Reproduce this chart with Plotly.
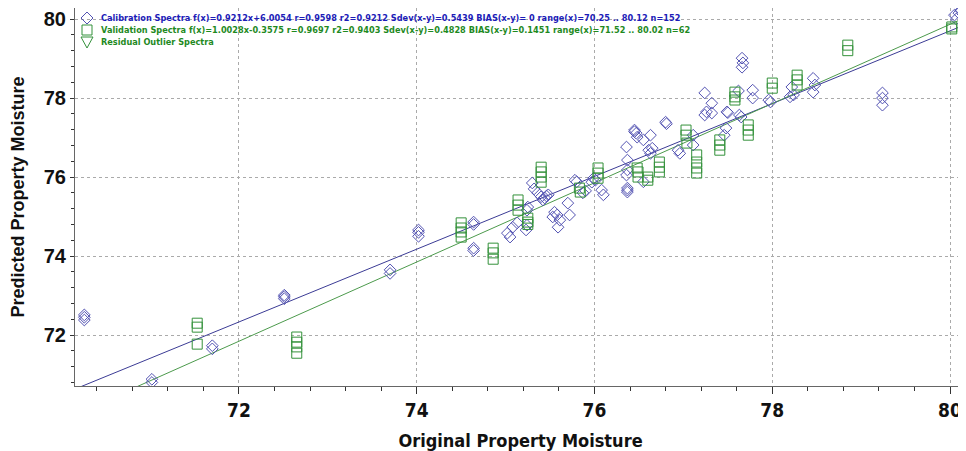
import plotly.graph_objects as go

# ---------------- data ----------------
cal_x = [70.26, 70.26, 70.26, 71.02, 71.02, 71.70, 71.70, 72.51, 72.51, 72.51,
         73.70, 73.70, 74.02, 74.02, 74.02, 74.64, 74.64, 74.64, 74.64, 75.02,
         75.05, 75.08, 75.13, 75.23, 75.24, 75.30, 75.32, 75.36, 75.24, 75.25,
         75.40, 75.44, 75.42, 75.48, 75.46, 75.55, 75.58, 75.53, 75.61, 75.59,
         75.70, 75.72, 75.78, 75.80, 75.87, 75.90, 75.99, 76.01, 75.97, 76.08,
         76.10, 76.36, 76.37, 76.37, 76.36, 76.37, 76.37, 76.37, 76.45, 76.47,
         76.48, 76.45, 76.55, 76.63, 76.61, 76.63, 76.65, 76.80, 76.81, 76.94,
         76.96, 77.11, 77.11, 77.66, 77.67, 77.66, 77.24, 77.32, 77.26, 77.24,
         77.32, 77.49, 77.50, 77.48, 77.46, 77.63, 77.65, 77.78, 77.78, 77.96,
         77.98, 78.22, 78.24, 78.20, 78.46, 78.48, 78.46, 79.24, 79.24, 79.24,
         80.05, 80.07, 80.12, 80.10, 76.55, 77.62]
cal_y = [72.51, 72.38, 72.45, 70.88, 70.80, 71.73, 71.65, 73.01, 72.92, 72.97,
         73.65, 73.56, 74.66, 74.50, 74.60, 74.86, 74.80, 74.20, 74.14, 74.58,
         74.48, 74.73, 74.84, 74.66, 74.78, 75.85, 75.70, 75.60, 75.16, 75.24,
         75.50, 75.47, 75.42, 75.55, 75.52, 75.11, 75.04, 74.99, 74.91, 74.73,
         75.34, 75.04, 75.92, 75.88, 75.60, 75.65, 75.97, 75.92, 75.87, 75.67,
         75.55, 76.76, 76.43, 76.18, 76.05, 75.72, 75.62, 75.67, 77.19, 77.11,
         77.01, 77.15, 76.94, 77.06, 76.68, 76.60, 76.73, 77.39, 77.35, 76.68,
         76.60, 77.06, 76.81, 79.01, 78.89, 78.78, 78.13, 77.87, 77.65, 77.57,
         77.62, 77.65, 77.63, 77.24, 77.06, 77.57, 77.52, 78.20, 78.00, 77.95,
         77.90, 78.28, 78.08, 78.03, 78.50, 78.33, 78.15, 78.13, 78.00, 77.82,
         80.10, 80.00, 80.22, 80.15, 75.88, 78.18]

val_x = [71.53, 71.53, 71.53, 72.65, 72.65, 72.65, 72.65, 74.50, 74.50, 74.50,
         74.50, 74.86, 74.86, 74.86, 75.14, 75.14, 75.14, 75.25, 75.25, 75.25,
         75.40, 75.40, 75.40, 75.40, 75.83, 75.84, 76.04, 76.04, 76.04, 76.48,
         76.49, 76.49, 76.60, 76.60, 76.73, 76.73, 76.73, 77.03, 77.03, 77.04,
         77.15, 77.15, 77.15, 77.15, 77.41, 77.41, 77.41, 77.58, 77.58, 77.58,
         77.73, 77.73, 77.73, 78.00, 78.00, 78.28, 78.28, 78.28, 78.85, 78.85,
         80.02, 80.02]
val_y = [72.30, 72.20, 71.77, 71.95, 71.82, 71.70, 71.54, 74.84, 74.71, 74.61,
         74.48, 74.20, 74.08, 73.92, 75.42, 75.29, 75.16, 74.96, 74.86, 74.80,
         76.25, 76.13, 76.00, 75.87, 75.72, 75.62, 76.23, 76.10, 75.97, 76.23,
         76.13, 76.00, 76.00, 75.92, 76.38, 76.25, 76.13, 77.19, 77.06, 76.86,
         76.56, 76.38, 76.23, 76.10, 76.94, 76.81, 76.68, 78.15, 78.03, 77.95,
         77.32, 77.19, 77.06, 78.38, 78.25, 78.58, 78.46, 78.33, 79.34, 79.20,
         79.75, 79.80]

outlier_x = []
outlier_y = []

cal_slope, cal_intercept = 0.9212, 6.0054
val_slope, val_intercept = 1.0028, -0.3575

x_range = [70.155, 80.18]
y_range = [70.71, 80.28]

cal_label = ("Calibration Spectra f(x)=0.9212x+6.0054 r=0.9598 r2=0.9212 "
             "Sdev(x-y)=0.5439 BIAS(x-y)= 0 range(x)=70.25 .. 80.12 n=152")
val_label = ("Validation Spectra f(x)=1.0028x-0.3575 r=0.9697 r2=0.9403 "
             "Sdev(x-y)=0.4828 BIAS(x-y)=0.1451 range(x)=71.52 .. 80.02 n=62")
out_label = "Residual Outlier Spectra"

# ---------------- styles ----------------
CAL_MARK = "#5252b2"
CAL_LINE = "#3b3b95"
CAL_TEXT = "#1c1cb8"
VAL_MARK = "#33913a"
VAL_LINE = "#4c9a4c"
VAL_TEXT = "#1f8a1f"

# the page adds an 8px body margin: figure is drawn slightly smaller
W, H = 958, 443
L, T, PW, PH = 67, 0, 891, 378

fig = go.Figure()

line_x = [x_range[0] - 0.2, x_range[1] + 0.2]
fig.add_trace(go.Scatter(x=line_x, y=[cal_slope * v + cal_intercept for v in line_x],
                         mode="lines", line=dict(color=CAL_LINE, width=1),
                         showlegend=False, hoverinfo="skip"))
fig.add_trace(go.Scatter(x=line_x, y=[val_slope * v + val_intercept for v in line_x],
                         mode="lines", line=dict(color=VAL_LINE, width=1),
                         showlegend=False, hoverinfo="skip"))

fig.add_trace(go.Scatter(x=cal_x, y=cal_y, mode="markers", name="Calibration Spectra",
                         marker=dict(symbol="diamond-open", size=9, color=CAL_MARK,
                                     line=dict(width=1, color=CAL_MARK)),
                         showlegend=False))
fig.add_trace(go.Scatter(x=val_x, y=val_y, mode="markers", name="Validation Spectra",
                         marker=dict(symbol="square-open", size=10, color=VAL_MARK,
                                     line=dict(width=1, color=VAL_MARK)),
                         showlegend=False))
fig.add_trace(go.Scatter(x=outlier_x, y=outlier_y, mode="markers", name=out_label,
                         marker=dict(symbol="triangle-down-open", size=10, color=VAL_MARK),
                         showlegend=False))

def px_x(p):
    return (p - L) / PW
def px_y(p):
    return 1 - (p - T) / PH

# legend key glyph outlines (pixel-sized, anchored at key centre)
key_paths = ["M -6 0 L 0 6 L 6 0 L 0 -6 Z",
             "M -5 -5 L 5 -5 L 5 5 L -5 5 Z",
             "M -6 5 L 6 5 L 0 -6 Z"]
rows = [(cal_label, CAL_MARK, CAL_TEXT, 10),
        (val_label, VAL_MARK, VAL_TEXT, 22),
        (out_label, VAL_MARK, VAL_TEXT, 34)]
for path, (txt, scol, tcol, ypix) in zip(key_paths, rows):
    fig.add_shape(type="path", xref="paper", yref="paper",
                  xsizemode="pixel", ysizemode="pixel",
                  xanchor=px_x(79), yanchor=px_y(ypix), path=path,
                  line=dict(color=scol, width=1), fillcolor="rgba(0,0,0,0)")
    fig.add_annotation(xref="paper", yref="paper", x=px_x(92), y=px_y(ypix),
                       text=f"<b>{txt}</b>", showarrow=False,
                       xanchor="left", yanchor="middle", borderpad=0,
                       font=dict(family="DejaVu Sans, Verdana", size=8.2, color=tcol))

NARROW = "Liberation Sans Narrow, Arial Narrow, DejaVu Sans Condensed, Arial"
fig.update_layout(
    width=W, height=H,
    margin=dict(l=L, r=W - L - PW, t=T, b=H - T - PH, autoexpand=False),
    plot_bgcolor="white", paper_bgcolor="white",
    showlegend=False,
    xaxis=dict(range=x_range, tick0=0, dtick=2, ticks="outside", ticklen=7,
               tickcolor="#333", showline=True, linecolor="#666", linewidth=1,
               mirror=True, showgrid=True, gridcolor="#aaaaaa", griddash="dot",
               gridwidth=1, zeroline=False, automargin=False,
               minor=dict(dtick=0.4, tick0=0, ticks="outside", ticklen=4,
                          tickcolor="#333", showgrid=False),
               tickfont=dict(family=NARROW, size=19, color="#111", weight="bold"),
               title=dict(text="Original Property Moisture", standoff=14,
                          font=dict(family=NARROW, size=18, color="#111", weight="bold"))),
    yaxis=dict(range=y_range, tick0=0, dtick=2, ticks="outside", ticklen=4,
               tickcolor="#333", showline=True, linecolor="#666", linewidth=1,
               mirror=True, showgrid=True, gridcolor="#aaaaaa", griddash="dot",
               gridwidth=1, zeroline=False, automargin=False,
               minor=dict(dtick=0.4, tick0=0, ticks="outside", ticklen=3,
                          tickcolor="#333", showgrid=False),
               tickfont=dict(family="Liberation Sans, Arial", size=20, color="#111",
                             weight="bold"),
               title=dict(text="Predicted Property Moisture", standoff=17,
                          font=dict(family="Liberation Sans, Arial", size=18,
                                    color="#111", weight="bold"))),
)

fig.write_html("out.html")
